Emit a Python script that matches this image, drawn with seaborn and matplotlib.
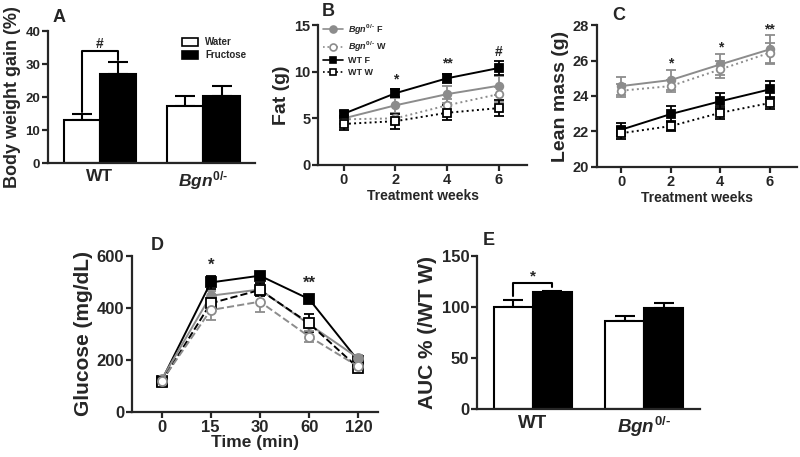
import numpy as np
import pandas as pd
import matplotlib
matplotlib.use('Agg')
import matplotlib.pyplot as plt
from matplotlib.lines import Line2D
import seaborn as sns

# ── Data ─────────────────────────────────────────────────────────────────────
genotypes = ['WT', 'Bgn']
genotype_labels = ['WT', r'$\mathit{Bgn}^{\mathit{0/}\text{-}}$']
diets = ['Water', 'Fructose']

# A: body weight gain (%)
bw_water = [13.2, 17.2]
bw_fruct = [27.0, 20.3]
bw_water_err = [1.8, 3.0]
bw_fruct_err = [3.5, 3.0]

# B/C: treatment weeks
weeks = [0, 2, 4, 6]
fat_bgn_f = [5.0, 6.4, 7.6, 8.5]
fat_bgn_w = [4.9, 5.0, 6.4, 7.6]
fat_wt_f = [5.5, 7.7, 9.3, 10.4]
fat_wt_w = [4.4, 4.7, 5.6, 6.1]
fat_bgn_f_err = [0.6, 0.8, 0.9, 1.0]
fat_bgn_w_err = [0.5, 0.6, 0.7, 0.8]
fat_wt_f_err = [0.3, 0.4, 0.5, 0.7]
fat_wt_w_err = [0.6, 0.8, 0.8, 0.9]

lean_bgn_f = [24.56, 24.9, 25.78, 26.63]
lean_bgn_w = [24.3, 24.56, 25.5, 26.44]
lean_wt_f = [22.1, 22.98, 23.7, 24.37]
lean_wt_w = [21.9, 22.3, 23.05, 23.6]
lean_bgn_f_err = [0.5, 0.55, 0.6, 0.8]
lean_bgn_w_err = [0.35, 0.35, 0.5, 0.55]
lean_wt_f_err = [0.35, 0.45, 0.45, 0.5]
lean_wt_w_err = [0.35, 0.3, 0.35, 0.35]

# D: glucose tolerance
time_labels = ['0', '15', '30', '60', '120']
glu_wt_f = [120, 498, 524, 434, 197]
glu_bgn_f = [125, 447, 471, 337, 207]
glu_wt_w = [115, 418, 469, 341, 169]
glu_bgn_w = [118, 392, 424, 290, 175]
glu_wt_f_err = [15, 25, 15, 15, 12]
glu_bgn_f_err = [15, 20, 20, 15, 12]
glu_wt_w_err = [12, 20, 25, 35, 10]
glu_bgn_w_err = [12, 40, 40, 20, 10]

# E: AUC % of WT W
auc_water = [100.0, 86.5]
auc_fruct = [114.3, 99.3]
auc_water_err = [6.8, 5.0]
auc_fruct_err = [1.7, 4.7]

# ── Style ────────────────────────────────────────────────────────────────────
sns.set_theme(style='ticks')
plt.rcParams['font.family'] = ['Liberation Sans', 'DejaVu Sans']
plt.rcParams['font.weight'] = 'bold'
plt.rcParams['axes.labelweight'] = 'bold'
plt.rcParams['mathtext.fontset'] = 'custom'
plt.rcParams['mathtext.it'] = 'Liberation Sans:italic:bold'
plt.rcParams['mathtext.rm'] = 'Liberation Sans:bold'
plt.rcParams['mathtext.bf'] = 'Liberation Sans:bold'
plt.rcParams['axes.linewidth'] = 1.6
plt.rcParams['xtick.major.width'] = 1.6
plt.rcParams['ytick.major.width'] = 1.6
plt.rcParams['xtick.major.size'] = 4
plt.rcParams['ytick.major.size'] = 4
plt.rcParams['xtick.major.pad'] = 2
plt.rcParams['ytick.major.pad'] = 1.5

GRAY = '#8c8c8c'

fig = plt.figure(figsize=(8, 4.57), dpi=100)
axA = fig.add_axes([0.06, 0.643, 0.259, 0.289])
axB = fig.add_axes([0.3975, 0.639, 0.2615, 0.306])
axC = fig.add_axes([0.746, 0.635, 0.25, 0.31])
axD = fig.add_axes([0.165, 0.0985, 0.3075, 0.3415])
axE = fig.add_axes([0.596, 0.105, 0.279, 0.335])


def bar_panel(ax, water, fruct, water_err, fruct_err):
    df = pd.DataFrame({
        'genotype': genotypes * 2,
        'diet': ['Water'] * 2 + ['Fructose'] * 2,
        'value': water + fruct,
    })
    sns.barplot(data=df, x='genotype', y='value', hue='diet', order=genotypes,
                hue_order=diets, palette={'Water': 'white', 'Fructose': 'black'},
                edgecolor='black', linewidth=1.5, width=0.7, errorbar=None,
                ax=ax, zorder=2)
    bars = list(ax.containers)
    for cont, errs in zip(bars, [water_err, fruct_err]):
        for bar, e in zip(cont, errs):
            xc = bar.get_x() + bar.get_width() / 2
            ax.errorbar(xc, bar.get_height(), yerr=[[0], [e]], color='black',
                        lw=1.5, capsize=7, capthick=1.5, zorder=1)
    ax.set_xlim(-0.5, 1.5)
    ax.set_xticks(range(len(genotypes)))
    ax.set_xticklabels(genotype_labels, fontsize=12.5, fontweight='bold')
    ax.set_xlabel('')
    ax.tick_params(axis='x', length=0, pad=4)
    sns.despine(ax=ax)
    centers = [[b.get_x() + b.get_width() / 2 for b in c] for c in bars]
    return bars, centers


def bracket(ax, x0, x1, y_left, y_top, y_right, label, fs):
    ax.plot([x0, x0, x1, x1], [y_left, y_top, y_top, y_right], color='black',
            lw=1.5, clip_on=False)
    ax.text((x0 + x1) / 2, y_top, label, ha='center', va='bottom', fontsize=fs)


# ── A ────────────────────────────────────────────────────────────────────────
barsA, cA = bar_panel(axA, bw_water, bw_fruct, bw_water_err, bw_fruct_err)
axA.set_ylim(0, 40)
axA.set_yticks([0, 10, 20, 30, 40])
axA.tick_params(axis='y', labelsize=9.5)
axA.set_ylabel('Body weight gain (%)', fontsize=13, labelpad=3)
bracket(axA, cA[0][0], cA[1][0], 15.5, 34, 31.2, '#', 10)
legA = axA.legend(handles=barsA, labels=diets, loc='upper right',
                  bbox_to_anchor=(1.0, 1.02), frameon=False, fontsize=7,
                  handlelength=1.6, handleheight=0.9, labelspacing=0.3)
for h in legA.legend_handles:
    h.set_edgecolor('black')
    h.set_linewidth(1.2)


# ── Line panels ──────────────────────────────────────────────────────────────
def line_series(ax, x, y, err, color, marker, filled, ls, ms=5.5):
    df = pd.DataFrame({'x': x, 'y': y})
    sns.lineplot(data=df, x='x', y='y', ax=ax, color=color, linestyle=ls,
                 lw=1.4, marker=marker, markersize=ms,
                 markerfacecolor=color if filled else 'white',
                 markeredgecolor=color, markeredgewidth=1.3, zorder=3)
    ax.errorbar(x, y, yerr=err, fmt='none', ecolor=color, elinewidth=1.3,
                capsize=3.5, capthick=1.3, zorder=2)


series_style = [
    (GRAY, 'o', True, '-', r'$\mathit{Bgn}^{\mathit{0/}\text{-}}$ F'),
    (GRAY, 'o', False, ':', r'$\mathit{Bgn}^{\mathit{0/}\text{-}}$ W'),
    ('black', 's', True, '-', 'WT F'),
    ('black', 's', False, ':', 'WT W'),
]

fat_vals = [fat_bgn_f, fat_bgn_w, fat_wt_f, fat_wt_w]
fat_errs = [fat_bgn_f_err, fat_bgn_w_err, fat_wt_f_err, fat_wt_w_err]
for (c, m, f, ls, lab), v, e in zip(series_style, fat_vals, fat_errs):
    line_series(axB, weeks, v, e, c, m, f, ls)
axB.set_xlim(-1, 7.1)
axB.set_ylim(0, 15)
axB.set_xticks(weeks)
axB.set_yticks([0, 5, 10, 15])
axB.set_xlabel('Treatment weeks', fontsize=10, labelpad=1)
axB.set_ylabel('Fat (g)', fontsize=14, labelpad=3)
axB.tick_params(labelsize=10.5)
handles = [Line2D([], [], color=c, marker=m, linestyle=ls, lw=1.2, markersize=5,
                  markerfacecolor=c if f else 'white', markeredgecolor=c,
                  markeredgewidth=1.2)
           for c, m, f, ls, lab in series_style]
axB.legend(handles=handles, labels=[s[4] for s in series_style],
           loc='upper left', bbox_to_anchor=(0.0, 1.06), frameon=False,
           fontsize=6.5, handlelength=2.2, labelspacing=0.3, numpoints=1,
           borderaxespad=0.2, handletextpad=0.5)
for xw, yy, s in zip([2, 4, 6], [8.4, 10.1, 11.4], ['*', '**', '#']):
    axB.text(xw, yy, s, ha='center', va='bottom', fontsize=10)
sns.despine(ax=axB)

lean_vals = [lean_bgn_f, lean_bgn_w, lean_wt_f, lean_wt_w]
lean_errs = [lean_bgn_f_err, lean_bgn_w_err, lean_wt_f_err, lean_wt_w_err]
for (c, m, f, ls, lab), v, e in zip(series_style, lean_vals, lean_errs):
    line_series(axC, weeks, v, e, c, m, f, ls)
axC.set_xlim(-1, 7.1)
axC.set_ylim(20, 28)
axC.set_xticks(weeks)
axC.set_yticks([20, 22, 24, 26, 28])
axC.set_xlabel('Treatment weeks', fontsize=10, labelpad=1)
axC.set_ylabel('Lean mass (g)', fontsize=14, labelpad=3)
axC.tick_params(labelsize=10.5)
for xw, yy, s in zip([2, 4, 6], [25.45, 26.35, 27.35], ['*', '*', '**']):
    axC.text(xw, yy, s, ha='center', va='bottom', fontsize=10)
sns.despine(ax=axC)

# ── D ────────────────────────────────────────────────────────────────────────
pos = list(range(len(time_labels)))
glu_style = [
    ('black', 's', True, '-'),
    (GRAY, 'o', True, '-'),
    ('black', 's', False, '--'),
    (GRAY, 'o', False, '--'),
]
glu_vals = [glu_wt_f, glu_bgn_f, glu_wt_w, glu_bgn_w]
glu_errs = [glu_wt_f_err, glu_bgn_f_err, glu_wt_w_err, glu_bgn_w_err]
for (c, m, f, ls), v, e in zip(glu_style, glu_vals, glu_errs):
    line_series(axD, pos, v, e, c, m, f, ls, ms=6.5)
axD.set_xlim(-0.6, 4.4)
axD.set_ylim(0, 600)
axD.set_xticks(pos)
axD.set_xticklabels(time_labels)
axD.set_yticks([0, 200, 400, 600])
axD.set_xlabel('Time (min)', fontsize=12.5, labelpad=0)
axD.set_ylabel('Glucose (mg/dL)', fontsize=15, labelpad=3)
axD.tick_params(labelsize=12)
axD.text(1, 535, '*', ha='center', va='bottom', fontsize=12)
axD.text(3, 465, '**', ha='center', va='bottom', fontsize=12)
sns.despine(ax=axD)

# ── E ────────────────────────────────────────────────────────────────────────
barsE, cE = bar_panel(axE, auc_water, auc_fruct, auc_water_err, auc_fruct_err)
axE.get_legend().remove()
axE.set_ylim(0, 150)
axE.set_yticks([0, 50, 100, 150])
axE.set_ylabel('AUC % (/WT W)', fontsize=15, labelpad=3)
axE.tick_params(axis='y', labelsize=12)
axE.set_xticklabels(genotype_labels, fontsize=13.5, fontweight='bold')
bracket(axE, cE[0][0], cE[1][0], 111, 123, 119.5, '*', 11)

# ── Panel letters ────────────────────────────────────────────────────────────
for lab, xf, yf in [('A', 0.066, 0.962), ('B', 0.402, 0.975), ('C', 0.765, 0.966),
                    ('D', 0.188, 0.463), ('E', 0.603, 0.474)]:
    fig.text(xf, yf, lab, fontsize=13, fontweight='bold', va='center')

fig.savefig('out.png', dpi=100)
